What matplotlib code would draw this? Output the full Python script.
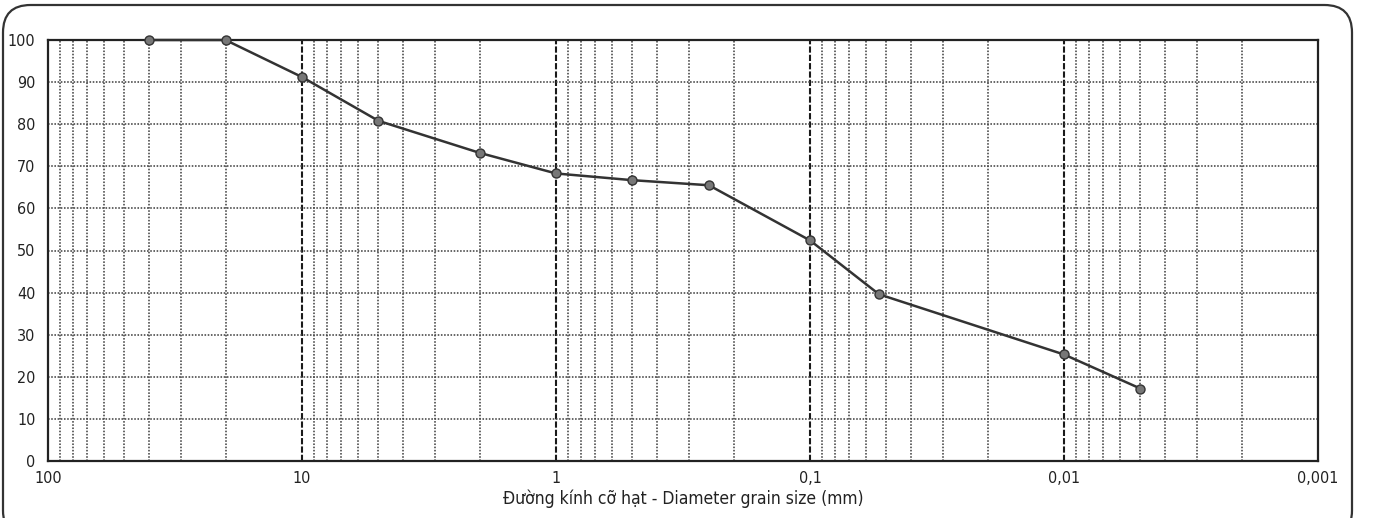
import matplotlib
matplotlib.use("Agg")
import matplotlib.pyplot as plt
from matplotlib.patches import FancyBboxPatch
from matplotlib.ticker import FixedLocator, FixedFormatter, NullFormatter
from matplotlib import font_manager

names = {f.name for f in font_manager.fontManager.ttflist}
fam = ['DejaVu Sans']
if 'Liberation Sans Narrow' in names:
    fam = ['Liberation Sans Narrow', 'DejaVu Sans']
plt.rcParams['font.family'] = fam
plt.rcParams['font.stretch'] = 'condensed'

# Data
diameter_mm = [40, 20, 10, 5, 2, 1, 0.5, 0.25, 0.1, 0.0535, 0.01, 0.005]
percent_finer = [100, 100, 91.2, 80.8, 73.2, 68.3, 66.7, 65.5, 52.4, 39.6, 25.3, 17.2]
x_major = [100, 10, 1, 0.1, 0.01, 0.001]
x_major_labels = ["100", "10", "1", "0,1", "0,01", "0,001"]
y_ticks = [0, 10, 20, 30, 40, 50, 60, 70, 80, 90, 100]
x_label = "Đường kính cỡ hạt - Diameter grain size (mm)"

W, H = 1377, 518
fig = plt.figure(figsize=(W / 100, H / 100), dpi=100)
ax = fig.add_axes([48 / W, (H - 461) / H, (1318 - 48) / W, (461 - 40) / H])

ax.set_xscale('log')
ax.set_xlim(100, 0.001)
ax.set_ylim(0, 100)

minors = []
for dec in [10, 1, 0.1, 0.01, 0.001]:
    for m in range(2, 10):
        minors.append(dec * m)
ax.xaxis.set_major_locator(FixedLocator(x_major))
ax.xaxis.set_major_formatter(FixedFormatter(x_major_labels))
ax.xaxis.set_minor_locator(FixedLocator(minors))
ax.xaxis.set_minor_formatter(NullFormatter())
ax.set_yticks(y_ticks)

for v in minors:
    ax.axvline(v, color='#444444', lw=1.15, ls=(0, (1.0, 1.0)), zorder=1)
for v in x_major[1:-1]:
    ax.axvline(v, color='#1a1a1a', lw=1.5, ls=(0, (3, 1)), zorder=1)
for v in y_ticks[1:-1]:
    ax.axhline(v, color='#444444', lw=1.15, ls=(0, (1.0, 1.0)), zorder=1)

ax.plot(diameter_mm, percent_finer, color='#333333', lw=1.8, zorder=3,
        marker='o', ms=6.5, mfc='#777777', mec='#333333', mew=1.0, clip_on=False)

for s in ax.spines.values():
    s.set_color('#222222')
    s.set_linewidth(1.6)
ax.tick_params(axis='both', which='both', length=0, labelsize=11.5, colors='#222222')
ax.tick_params(axis='x', pad=7)
ax.tick_params(axis='y', pad=9)
ax.set_xlabel(x_label, fontsize=12.5, color='#222222', labelpad=3)

frame = FancyBboxPatch((3 / W, -20 / H), (1352 - 3) / W, (H - 5 + 20) / H,
                       boxstyle="round,pad=0,rounding_size=0.02",
                       transform=fig.transFigure, fill=False,
                       ec='#333333', lw=1.6, mutation_aspect=W / H)
fig.patches.append(frame)

fig.savefig("out.png", dpi=100)
